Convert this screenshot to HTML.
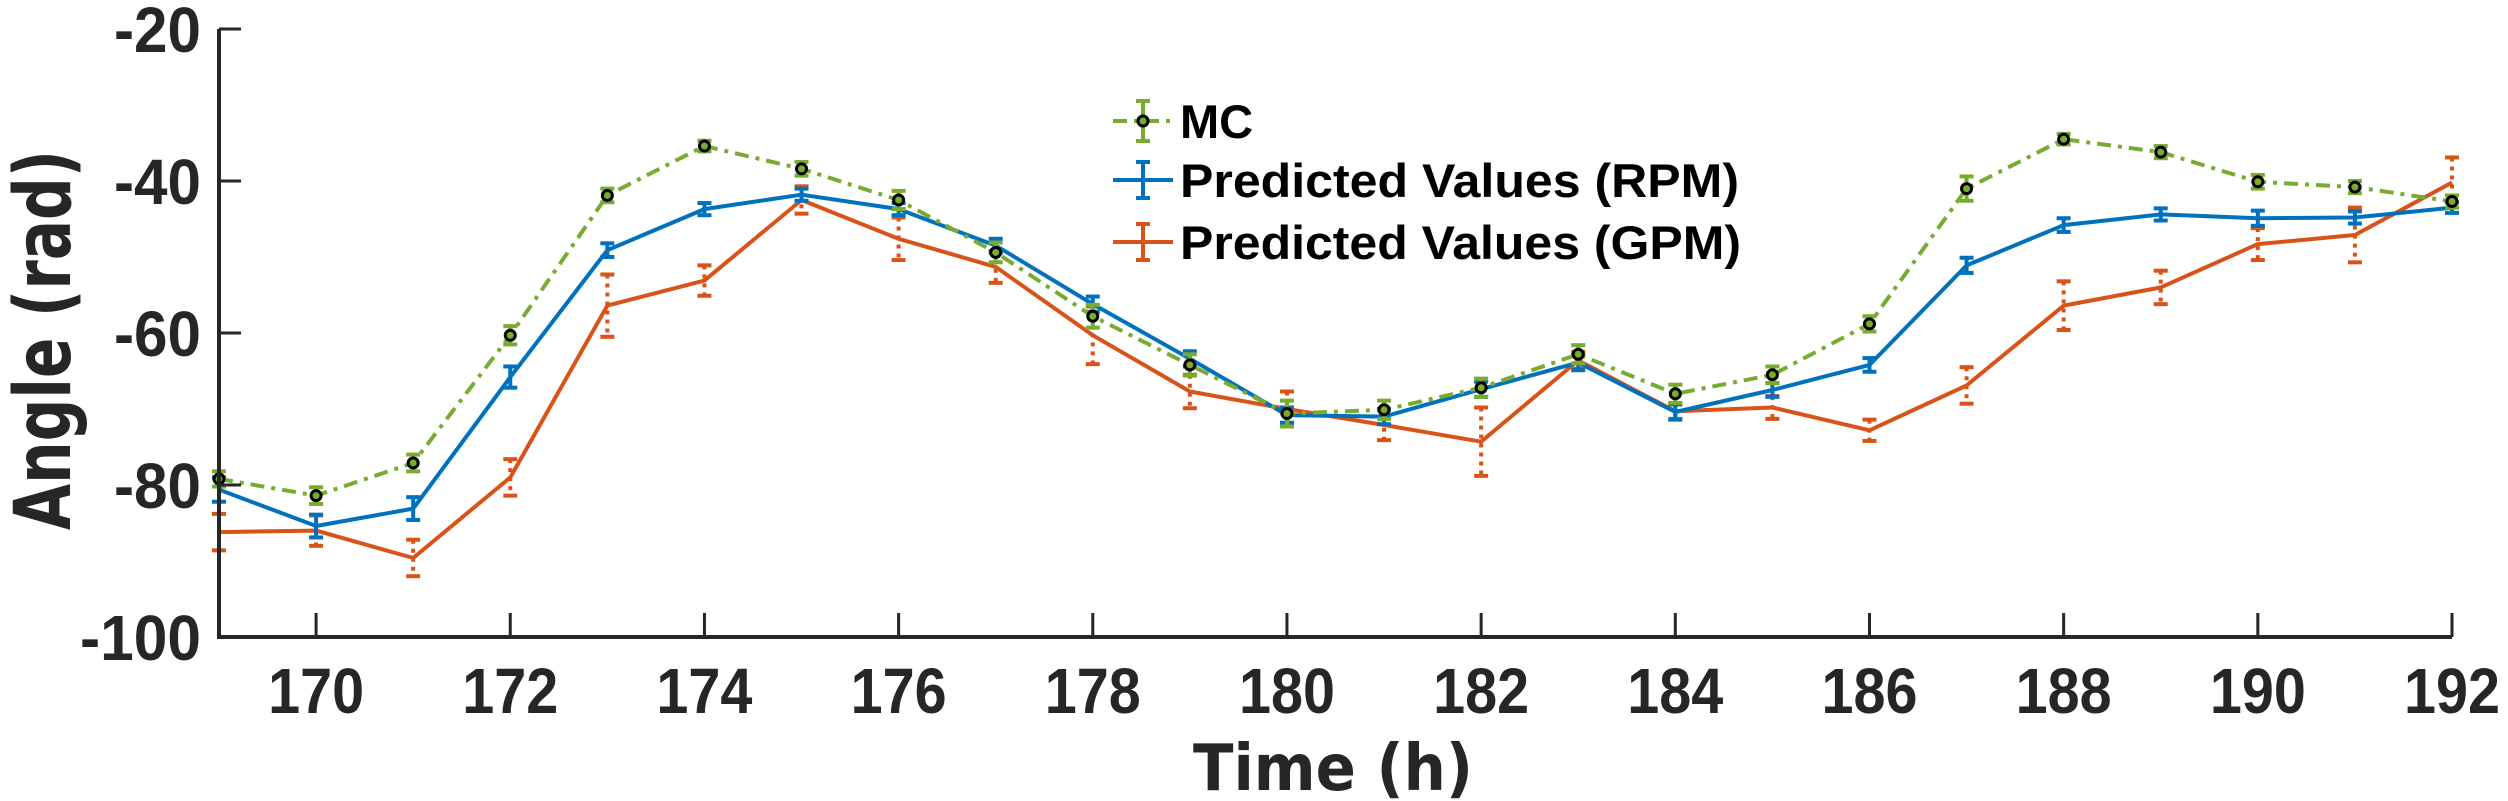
<!DOCTYPE html>
<html><head><meta charset="utf-8"><style>
html,body{margin:0;padding:0;background:#fff;}
svg{display:block;}
</style></head><body>
<svg id="chart" width="2508" height="801" viewBox="0 0 2508 801" xmlns="http://www.w3.org/2000/svg">
<g id="marks"></g>
<g id="axes"></g>
<g id="legend">
  <g>
    <line x1="1113" y1="121" x2="1173" y2="121" stroke="#77AC30" stroke-width="4" stroke-dasharray="14,7,4,7"/>
    <line x1="1143" y1="101" x2="1143" y2="141" stroke="#77AC30" stroke-width="4"/>
    <line x1="1136" y1="101" x2="1150" y2="101" stroke="#77AC30" stroke-width="4"/>
    <line x1="1136" y1="141" x2="1150" y2="141" stroke="#77AC30" stroke-width="4"/>
    <circle cx="1143" cy="121" r="5" fill="#77AC30" stroke="#000" stroke-width="3"/>
    <text x="1180" y="138" font-family="Liberation Sans, sans-serif" font-weight="bold" font-size="47" fill="#000">MC</text>
  </g>
  <g>
    <line x1="1113" y1="180" x2="1173" y2="180" stroke="#0072BD" stroke-width="4"/>
    <line x1="1143" y1="162" x2="1143" y2="198" stroke="#0072BD" stroke-width="4"/>
    <line x1="1136" y1="162" x2="1150" y2="162" stroke="#0072BD" stroke-width="4"/>
    <line x1="1136" y1="198" x2="1150" y2="198" stroke="#0072BD" stroke-width="4"/>
    <text x="1180" y="197" font-family="Liberation Sans, sans-serif" font-weight="bold" font-size="47" fill="#000" textLength="559" lengthAdjust="spacingAndGlyphs">Predicted Values (RPM)</text>
  </g>
  <g>
    <line x1="1113" y1="242" x2="1173" y2="242" stroke="#D95319" stroke-width="4"/>
    <line x1="1143" y1="224" x2="1143" y2="260" stroke="#D95319" stroke-width="4"/>
    <line x1="1136" y1="224" x2="1150" y2="224" stroke="#D95319" stroke-width="4"/>
    <line x1="1136" y1="260" x2="1150" y2="260" stroke="#D95319" stroke-width="4"/>
    <text x="1180" y="259" font-family="Liberation Sans, sans-serif" font-weight="bold" font-size="47" fill="#000" textLength="561" lengthAdjust="spacingAndGlyphs">Predicted Values (GPM)</text>
  </g>
</g>
<text x="1333" y="790" text-anchor="middle" font-family="DejaVu Sans, sans-serif" font-weight="bold" font-size="64" fill="#262626" textLength="280" lengthAdjust="spacingAndGlyphs">Time (h)</text>
<text transform="translate(70,340) rotate(-90)" text-anchor="middle" font-family="DejaVu Sans, sans-serif" font-weight="bold" font-size="78" fill="#262626" textLength="380" lengthAdjust="spacingAndGlyphs">Angle (rad)</text>
</svg>
<script>
const hours = [169,170,171,172,173,174,175,176,177,178,179,180,181,182,183,184,185,186,187,188,189,190,191,192];
const mcValues = [-79.2,-81.4,-77.1,-60.3,-41.9,-35.4,-38.4,-42.5,-49.4,-57.8,-64.2,-70.6,-70.1,-67.2,-62.8,-68.0,-65.5,-58.8,-41.0,-34.5,-36.2,-40.1,-40.8,-42.7];
const mcErr = [1.0,1.1,1.1,1.2,0.9,0.7,0.9,1.2,1.3,1.5,1.4,1.7,1.2,1.2,1.2,1.2,1.1,1.0,1.6,0.7,0.8,0.9,0.8,0.8];
const rpmValues = [-80.6,-85.4,-83.1,-65.8,-49.1,-43.7,-41.8,-43.7,-48.5,-56.2,-63.4,-70.8,-71.0,-67.4,-63.9,-70.4,-67.5,-64.2,-51.1,-45.8,-44.4,-44.9,-44.8,-43.5];
const rpmErr = [1.6,1.5,1.5,1.4,0.9,0.8,0.8,0.8,0.9,1.0,1.0,1.0,1.0,1.0,1.0,1.0,0.9,0.9,1.0,0.9,0.8,1.0,0.8,0.7];
const gpmValues = [-86.2,-86.0,-89.6,-79.0,-56.4,-53.1,-42.5,-47.6,-51.3,-60.3,-67.7,-70.0,-72.1,-74.3,-63.6,-70.3,-69.8,-72.8,-66.9,-56.4,-54.0,-48.3,-47.1,-40.2];
const gpmErr = [2.4,2.0,2.4,2.4,4.1,2.0,1.8,2.8,2.1,3.8,2.2,2.3,2.0,4.5,1.1,1.0,1.5,1.4,2.4,3.2,2.2,2.1,3.6,3.3];
const xTicks = [170,172,174,176,178,180,182,184,186,188,190,192];
const yTicks = [-20,-40,-60,-80,-100];

const NS = 'http://www.w3.org/2000/svg';
const X0=219, X1=2452, Y0=29, Y1=637;
const xMin=169, xMax=192, yMin=-100, yMax=-20;
function sx(v){return X0+(v-xMin)/(xMax-xMin)*(X1-X0);}
function sy(v){return Y1-(v-yMin)/(yMax-yMin)*(Y1-Y0);}
function mk(tag, attrs, parent){const e=document.createElementNS(NS,tag);for(const k in attrs)e.setAttribute(k,attrs[k]);parent.appendChild(e);return e;}

const marks=document.getElementById('marks');
const axes=document.getElementById('axes');

function drawSeries(name, vals, errs, color, dash, errDash, markers){
  const g=mk('g',{},marks);
  
  
  vals.forEach((v,i)=>{
    const x=sx(hours[i]), yt=sy(v+errs[i]), yb=sy(v-errs[i]);
    const eb=mk('g',{stroke:color,'stroke-width':4,fill:'none'},g);
    
    
    mk('line',{x1:x,y1:yt,x2:x,y2:yb,'stroke-dasharray':errDash||'none'},eb);
    mk('line',{x1:x-7,y1:yt,x2:x+7,y2:yt},eb);
    mk('line',{x1:x-7,y1:yb,x2:x+7,y2:yb},eb);
  });
  const pts=vals.map((v,i)=>sx(hours[i]).toFixed(1)+','+sy(v).toFixed(1)).join(' ');
  const pl=mk('polyline',{points:pts,fill:'none',stroke:color,'stroke-width':4,'stroke-linejoin':'round','stroke-dasharray':dash||'none'},g);
  
  
  if(markers){
    vals.forEach((v,i)=>{
      const c=mk('circle',{cx:sx(hours[i]),cy:sy(v),r:5,fill:color,stroke:'#000','stroke-width':3},g);
      
      
    });
  }
}
drawSeries('gpm', gpmValues, gpmErr, '#D95319', null, '4,5', false);
drawSeries('rpm', rpmValues, rpmErr, '#0072BD', null, null, false);
drawSeries('mc', mcValues, mcErr, '#77AC30', '14,7,4,7', null, true);

const ax=mk('path',{d:`M${X0},${Y0} L${X0},${Y1} L${X1},${Y1}`,fill:'none',stroke:'#262626','stroke-width':4},axes);


xTicks.forEach(t=>{
  const x=sx(t);
  const l=mk('line',{x1:x,y1:Y1,x2:x,y2:Y1-24,stroke:'#262626','stroke-width':3},axes);
  
  
  const tx=mk('text',{x:x,y:713,'text-anchor':'middle','font-family':'Liberation Sans, sans-serif','font-weight':'bold','font-size':64,fill:'#262626',textLength:96,lengthAdjust:'spacingAndGlyphs'},axes);
  tx.textContent=t;
  
  
});
yTicks.forEach(t=>{
  const y=sy(t);
  const l=mk('line',{x1:X0,y1:y,x2:X0+22,y2:y,stroke:'#262626','stroke-width':3},axes);
  
  
  const s=String(t);
  const tx=mk('text',{x:201,y:y+23,'text-anchor':'end','font-family':'Liberation Sans, sans-serif','font-weight':'bold','font-size':64,fill:'#262626',textLength:s.length===4?121:87,lengthAdjust:'spacingAndGlyphs'},axes);
  tx.textContent=s;
  
  
});
</script>
</body></html>
